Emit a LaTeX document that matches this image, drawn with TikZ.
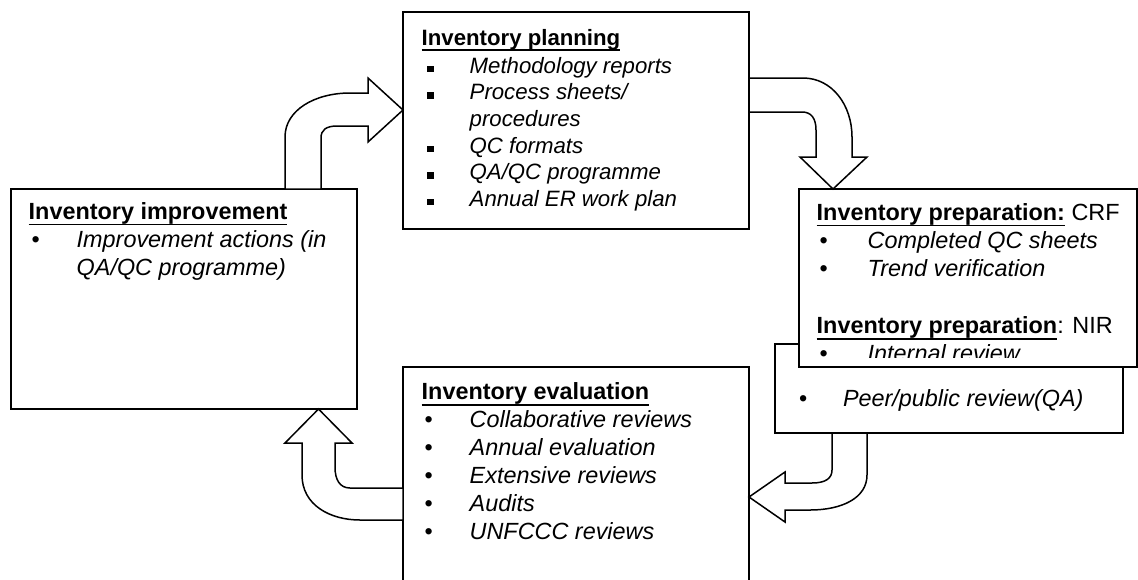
\documentclass[tikz,border=0pt]{standalone}
\usepackage{fontspec}
\setmainfont{Liberation Sans}
\newcommand\undl[1]{\setbox0\hbox{#1}\rlap{\rule[\dimexpr-\dp0-1.6pt\relax]{\wd0}{1.9pt}}\box0\relax}
\newcommand\hd[1]{\undl{\bfseries #1}}
\newcommand\bul[2][48pt]{\makebox[#1][l]{\hspace{3pt}\textbullet}\textit{#2}}
\newcommand\sqb[1]{\makebox[48pt][l]{\hspace{5.5pt}\rule[1pt]{6.5pt}{6.5pt}}\textit{#1}}
\newcommand\cont[2][48pt]{\hspace*{#1}\textit{#2}}

\begin{document}
\begin{tikzpicture}[
  x=1pt, y=-1pt,
  box/.style={draw, line width=1.6pt, fill=white, inner sep=0pt, outer sep=0pt, anchor=north west},
  blk/.style={draw, line width=1.5pt, fill=white, line join=miter},
  ln/.style={anchor=base west, inner sep=0pt, font=\fontsize{23.4}{28}\selectfont},
  lnp/.style={ln, font=\fontsize{22.2}{26.6}\selectfont}
]
\useasboundingbox (0,0) rectangle (1138,579);
\clip (0,0) rectangle (1138,579);

% boxes
\node[box, minimum width=346pt, minimum height=220pt] (impr) at (11,189) {};
\node[box, minimum width=346pt, minimum height=217pt] (plan) at (403,12) {};
\node[box, minimum width=346pt, minimum height=230pt] (eval) at (403,367) {};
\node[box, minimum width=348pt, minimum height=89pt] (nir) at (775,344) {};
\node[box, minimum width=338pt, minimum height=178pt] (prep) at (799,189) {};

% block arrows
\draw[blk] (285,189) -- (285,137) .. controls (285,110) and (315,93) .. (350,93)
  -- (368,93) -- (368,78) -- (403,110) -- (368,142) -- (368,126) -- (337,126)
  .. controls (326,126) and (321,130) .. (321,138) -- (321,189) -- cycle;
\draw[blk] (749,78) -- (803,78) .. controls (832,78) and (852,105) .. (852,137)
  -- (852,157) -- (867,157) -- (833,189) -- (800,157) -- (816,157) -- (816,130)
  .. controls (816,118) and (811,112) .. (802,112) -- (749,112) -- cycle;
\draw[blk] (867,433) -- (867,475) .. controls (867,498) and (842,510) .. (810,510)
  -- (785,510) -- (785,522) -- (749,497) -- (785,472) -- (785,483) -- (812,483)
  .. controls (826,483) and (832,478) .. (832,470) -- (832,433) -- cycle;
\draw[blk] (403,488) -- (350,488) .. controls (340,488) and (335,480) .. (335,467)
  -- (335,443) -- (352,443) -- (318.5,409) -- (285,443) -- (302,443) -- (302,475)
  .. controls (302,505) and (330,520) .. (360,520) -- (403,520) -- cycle;

% planning
\node[lnp] (plan-t) at (421.5,45) {\hd{Inventory planning}};
\foreach \t [count=\i] in {\sqb{Methodology reports}, \sqb{Process sheets/},
    \cont{procedures}, \sqb{QC formats}, \sqb{QA/QC programme}, \sqb{Annual ER work plan}}
  \node[lnp] (plan-\i) at (421.5, 46.7+26.6*\i) {\t};

% improvement
\node[ln] (impr-t) at (28.5,219) {\hd{Inventory improvement}};
\foreach \t [count=\i] in {\bul{Improvement actions (in}, \cont{QA/QC programme)}}
  \node[ln] (impr-\i) at (28.5, 219+28.3*\i) {\t};

% preparation
\begin{scope}
\clip (799,189) rectangle (1137,357);
\node[ln] (prep-t) at (816.5,220) {\hd{Inventory preparation:} CRF};
\node[ln] (prep-1) at (816.5,248.3) {\bul[51pt]{Completed QC sheets}};
\node[ln] (prep-2) at (816.5,276.6) {\bul[51pt]{Trend verification}};
\node[ln] (prep-n) at (816.5,333.2) {\hd{Inventory preparation}: NIR};
\node[ln] (prep-3) at (816.5,361.5) {\bul[51pt]{Internal review}};
\end{scope}
\node[ln] (nir-1) at (795.8,406) {\bul[47pt]{Peer/public review(QA)}};

% evaluation
\node[ln] (eval-t) at (421.5,399.5) {\hd{Inventory evaluation}};
\foreach \t [count=\i] in {\bul{Collaborative reviews}, \bul{Annual evaluation},
    \bul{Extensive reviews}, \bul{Audits}, \bul{UNFCCC reviews}}
  \node[ln] (eval-\i) at (421.5, 398.8+28.2*\i) {\t};
\end{tikzpicture}
\end{document}
